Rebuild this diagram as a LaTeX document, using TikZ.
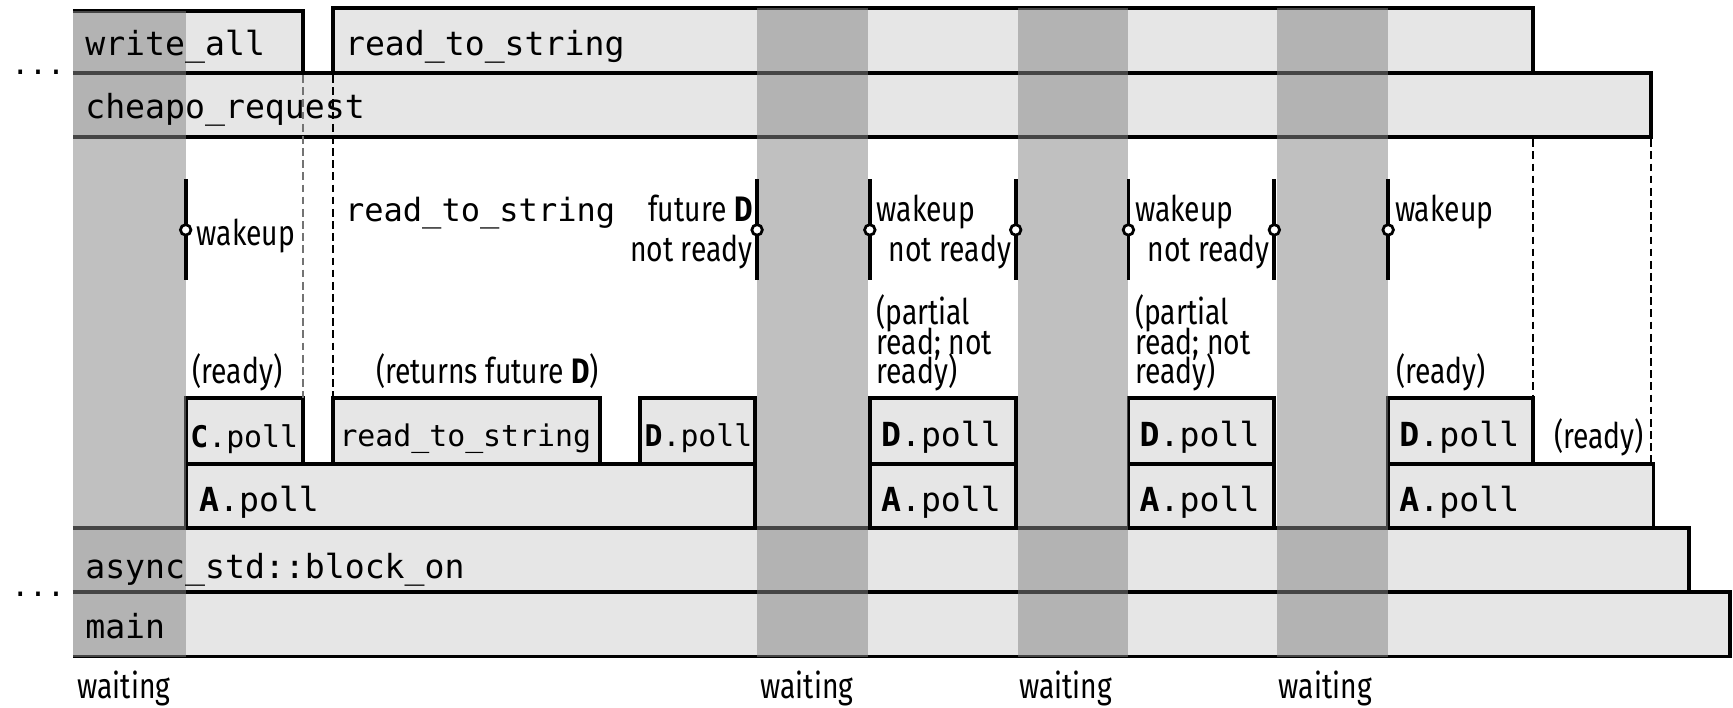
\documentclass[tikz,border=0pt]{standalone}
\usepackage{fontspec}
\usetikzlibrary{fit}
\newfontfamily\mono{DejaVu Sans Mono}
\newfontfamily\lbl[FakeStretch=0.8]{Fira Sans}
\definecolor{boxfill}{RGB}{230,230,230}
\definecolor{waitgray}{RGB}{134,134,134}
\begin{document}
\begin{tikzpicture}[x=1pt,y=-1pt,
  bar/.style={fill=boxfill, draw=none, inner sep=0pt, outer sep=0pt},
  bbox/.style={fill=boxfill, draw=black, line width=3.5pt, inner sep=0pt, outer sep=0pt},
  border/.style={line width=3.5pt, line join=miter},
  wait/.style={fill=waitgray, fill opacity=0.52, draw=none, inner sep=0pt, outer sep=0pt},
  code/.style={font=\mono\fontsize{30}{30}\selectfont, inner sep=0pt, anchor=base west},
  codesm/.style={font=\mono\fontsize{27}{27}\selectfont, inner sep=0pt, anchor=base west},
  lab/.style={font=\lbl\fontsize{32}{26}\selectfont, inner sep=0pt, anchor=base west},
  labr/.style={lab, anchor=base east},
  marker/.style={line width=3.5pt},
  dot/.style={circle, draw=black, fill=white, line width=2.5pt, minimum size=9.5pt, inner sep=0pt},
  dash1/.style={line width=1.5pt, dash pattern=on 7pt off 4pt},
]
\useasboundingbox (0,0) rectangle (1568,640);
% open-left bars
\node[bar, fit={(66,10) (274,66)}] (writeall) {};
\node[bar, fit={(66,66) (1494,124)}] (cheapo) {};
\node[bar, fit={(66,478) (1528,536)}] (blockon) {};
\node[bar, fit={(66,536) (1565,594)}] (mainb) {};
\foreach \n in {writeall,cheapo,blockon,mainb}
  \draw[border] (\n.north west) -- (\n.north east) -- (\n.south east) -- (\n.south west);
% closed boxes
\node[bbox, fit={(301,7) (1387,66)}] (rts) {};
\node[bbox, fit={(168,360) (274,420)}] (cpoll) {};
\node[bbox, fit={(301,360) (543,420)}] (rtsb) {};
\node[bbox, fit={(579,360) (683,420)}] (dpolla) {};
\node[bbox, fit={(168,420) (683,478)}] (apolla) {};
\node[bbox, fit={(787,360) (919,420)}] (dpollb) {};
\node[bbox, fit={(787,420) (919,478)}] (apollb) {};
\node[bbox, fit={(1021,360) (1153,420)}] (dpollc) {};
\node[bbox, fit={(1021,420) (1153,478)}] (apollc) {};
\node[bbox, fit={(1256,360) (1387,420)}] (dpolld) {};
\node[bbox, fit={(1256,420) (1496,478)}] (apolld) {};
% dashed guide lines
\coordinate (g1a) at (274,68); \coordinate (g1b) at (274,360);
\coordinate (g2a) at (301,68); \coordinate (g2b) at (301,360);
\coordinate (g3a) at (1387,126); \coordinate (g3b) at (1387,360);
\coordinate (g4a) at (1494,126); \coordinate (g4b) at (1494,420);
\draw[dash1, draw=black!55] (g1a) -- (g1b);
\draw[dash1] (g2a) -- (g2b);
\draw[dash1] (g3a) -- (g3b);
\draw[dash1] (g4a) -- (g4b);
% waiting columns
\node[wait, fit={(66,10) (168,594)}] (w1) {};
\node[wait, fit={(685,7) (785,594)}] (w2) {};
\node[wait, fit={(921,7) (1021,594)}] (w3) {};
\node[wait, fit={(1155,7) (1256,594)}] (w4) {};
% markers
\foreach \i/\x in {1/168,2/685,3/787,4/919,5/1021,6/1153,7/1256}{
  \coordinate (mt\i) at (\x,162);
  \coordinate (mb\i) at (\x,253);
  \draw[marker] (mt\i) -- (mb\i);
  \node[dot] (md\i) at (\x,208) {};
}
% bar texts
\node[code] (t1) at (77,50) {write\_all};
\node[code] (t2) at (312,50) {read\_to\_string};
\node[code] (t3) at (77,107) {cheapo\_request};
\node[code] (t4) at (77,523) {async\_std::block\_on};
\node[code] (t5) at (77,578) {main};
\node[codesm] (d1) at (10,67) {...};
\node[codesm] (d2) at (10,540) {...};
% poll texts
\node[codesm] (t6) at (172,405) {\textbf{C}.poll};
\node[codesm] (t7) at (307,404) {read\_to\_string};
\node[codesm] (t8) at (583,404) {\textbf{D}.poll};
\node[code] (t9) at (180,463) {\textbf{A}.poll};
\node[code] (t10) at (797,404) {\textbf{D}.poll};
\node[code] (t11) at (797,463) {\textbf{A}.poll};
\node[code] (t12) at (1031,404) {\textbf{D}.poll};
\node[code] (t13) at (1031,463) {\textbf{A}.poll};
\node[code] (t14) at (1266,404) {\textbf{D}.poll};
\node[code] (t15) at (1266,463) {\textbf{A}.poll};
% labels
\node[lab] (l1) at (178,222) {wakeup};
\node[code, font=\mono\fontsize{29}{29}\selectfont] (l2) at (312,200) {read\_to\_string};
\node[labr] (l3) at (681,200) {future \textbf{D}};
\node[labr] (l4) at (681,237) {not ready};
\node[lab] (l5) at (793,200) {wakeup};
\node[labr] (l6) at (915,237) {not ready};
\node[lab] (l7) at (1027,200) {wakeup};
\node[labr] (l8) at (1149,237) {not ready};
\node[lab] (l9) at (1262,200) {wakeup};
\node[lab] (l10) at (174,347) {(ready)};
\node[lab] (l11) at (340,347) {(returns future \textbf{D})};
\node[lab] (l12a) at (793,294) {(partial};
\node[lab] (l12b) at (793,321) {read; not};
\node[lab] (l12c) at (793,347) {ready)};
\node[lab] (l13a) at (1027,294) {(partial};
\node[lab] (l13b) at (1027,321) {read; not};
\node[lab] (l13c) at (1027,347) {ready)};
\node[lab] (l14) at (1263,347) {(ready)};
\node[lab] (l15) at (1406,406) {(ready)};
\node[lab] (l16) at (70,632) {waiting};
\node[lab] (l17) at (688,632) {waiting};
\node[lab] (l18) at (922,632) {waiting};
\node[lab] (l19) at (1157,632) {waiting};
\end{tikzpicture}
\end{document}
